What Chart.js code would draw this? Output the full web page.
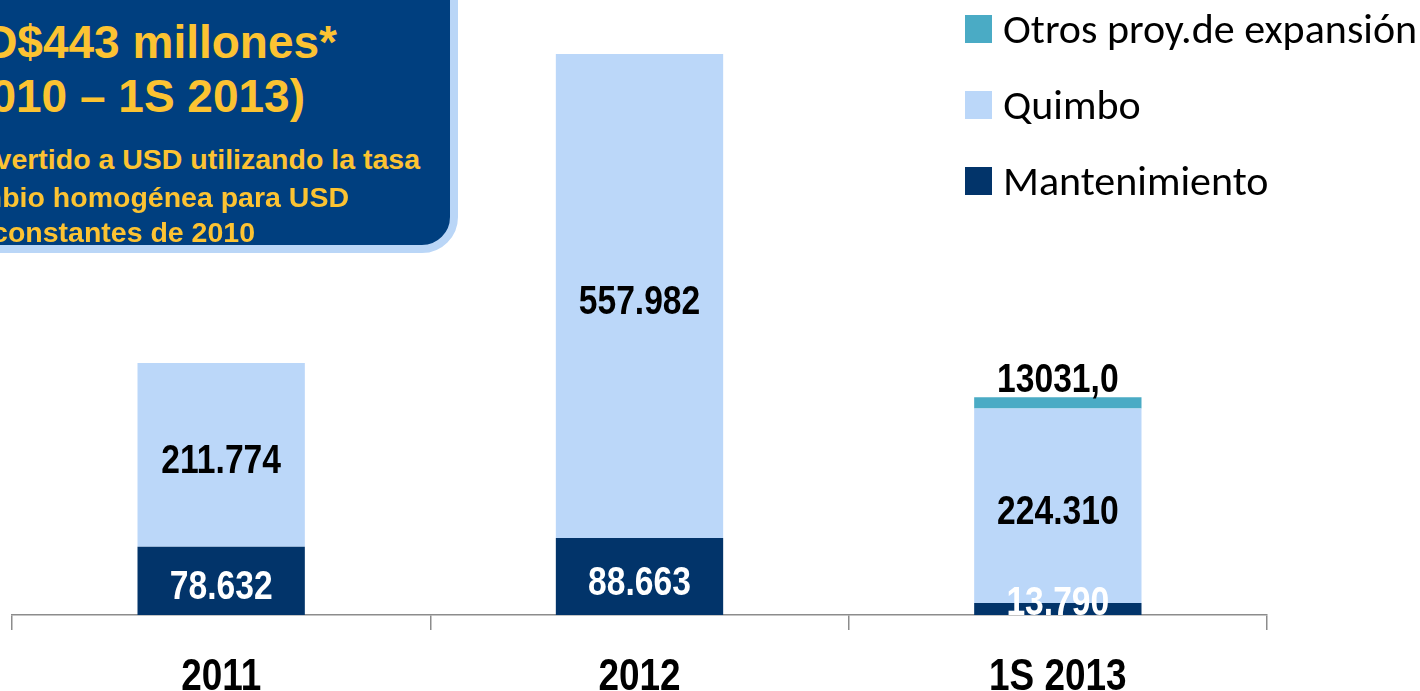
<!DOCTYPE html>
<html>
<head>
<meta charset="utf-8">
<script src="https://cdn.jsdelivr.net/npm/chart.js@4.4.1/dist/chart.umd.min.js"></script>
<style>
    html, body { margin: 0; padding: 0; background: #ffffff; }
    body { width: 1420px; height: 691px; overflow: hidden; position: relative; }
    #chart_area { position: absolute; left: 0; top: 0; width: 1420px; height: 691px; }
    #info_box {
        position: absolute; left: -40px; top: -40px; width: 498px; height: 293px;
        box-sizing: border-box; background: #003f7f;
        border: 8px solid #bad6f7; border-bottom-right-radius: 36px;
    }
    .box_line {
        position: absolute; white-space: nowrap; text-align: right;
        font-family: "Liberation Sans", Arial, sans-serif; font-weight: bold;
        color: #fcc332; line-height: 1;
    }
    .big { font-size: 46px; }
    .small { font-size: 28.5px; }
</style>
</head>
<body>
<div id="chart_area"><canvas id="capex_chart"></canvas></div>
<div id="info_box"></div>
<div class="box_line big" style="right:1083px; top:19px;">USD$443 millones*</div>
<div class="box_line big" style="right:1115px; top:73px;">(2010 – 1S 2013)</div>
<div class="box_line small" style="right:1000px; top:145px;">*Convertido a USD utilizando la tasa</div>
<div class="box_line small" style="right:1071px; top:183px;">de cambio homogénea para USD</div>
<div class="box_line small" style="right:1165px; top:218px;">constantes de 2010</div>
<script>
const categories = ["2011", "2012", "1S 2013"];

const series_names = ["Mantenimiento", "Quimbo", "Otros proy.de expansión"];
const mantenimiento = [78.632, 88.663, 13.790];
const quimbo = [211.774, 557.982, 224.310];
const otros = [null, null, 13.031];

const mantenimiento_labels = ["78.632", "88.663", "13.790"];
const quimbo_labels = ["211.774", "557.982", "224.310"];
const otros_labels = ["", "", "13031,0"];

const colors = ["#02346a", "#bbd7f9", "#4aabc5"];
const label_colors = ["#ffffff", "#000000", "#000000"];
const narrow_family = '"Liberation Sans", Arial, sans-serif';
const narrow_scale = 0.82;              // squeeze bold Arial into an Arial Narrow look

function narrowText(ctx, text, x, y) {
    ctx.save();
    ctx.translate(x, y);
    ctx.scale(narrow_scale, 1);
    ctx.fillText(text, 0, 0);
    ctx.restore();
}

// Value labels drawn on top of each segment
const segmentLabels = {
    id: "segmentLabels",
    afterDatasetsDraw(chart) {
        const ctx = chart.ctx;
        const all_labels = [mantenimiento_labels, quimbo_labels, otros_labels];
        ctx.save();
        ctx.font = "bold 41px " + narrow_family;
        ctx.textAlign = "center";
        chart.data.datasets.forEach((dataset, i) => {
            const meta = chart.getDatasetMeta(i);
            meta.data.forEach((bar, j) => {
                const text = all_labels[i][j];
                if (!text) return;
                ctx.fillStyle = label_colors[i];
                if (i == 2) {                       // thin top segment: label above the bar
                    ctx.textBaseline = "alphabetic";
                    narrowText(ctx, text, bar.x, bar.y - 5);
                } else {
                    ctx.textBaseline = "middle";
                    const y = Math.min((bar.y + bar.base) / 2 + 7, bar.base - 11);
                    narrowText(ctx, text, bar.x, y);
                }
            });
        });
        ctx.restore();
    }
};

// Category labels under the axis, narrow bold
const categoryLabels = {
    id: "categoryLabels",
    afterDraw(chart) {
        const ctx = chart.ctx;
        const xs = chart.scales.x;
        ctx.save();
        ctx.font = "bold 45px " + narrow_family;
        ctx.fillStyle = "#000000";
        ctx.textAlign = "center";
        ctx.textBaseline = "alphabetic";
        categories.forEach((c, i) => {
            narrowText(ctx, c, xs.getPixelForTick(i), 690);
        });
        ctx.restore();
    }
};

// Legend in reversed stack order, top right
const sideLegend = {
    id: "sideLegend",
    afterDraw(chart) {
        const ctx = chart.ctx;
        const rows = [2, 1, 0];
        ctx.save();
        ctx.font = "40px Carlito, Lato, sans-serif";
        ctx.textAlign = "left";
        ctx.textBaseline = "alphabetic";
        rows.forEach((k, r) => {
            const top = 15 + r * 76;
            ctx.fillStyle = colors[k];
            ctx.fillRect(965, top, 27, 28);
            ctx.fillStyle = "#000000";
            ctx.save();
            ctx.translate(1003, top + 28);
            ctx.scale(1.05, 1);
            ctx.fillText(series_names[k], 0, 0);
            ctx.restore();
        });
        ctx.restore();
    }
};

const chart = new Chart("capex_chart", {
    type: "bar",
    data: {
        labels: categories,
        datasets: [
            { label: series_names[0], data: mantenimiento, backgroundColor: colors[0] },
            { label: series_names[1], data: quimbo, backgroundColor: colors[1] },
            { label: series_names[2], data: otros, backgroundColor: colors[2] }
        ]
    },
    options: {
        responsive: true,
        maintainAspectRatio: false,
        animation: false,
        layout: { padding: { left: 12, right: 153, top: 0, bottom: 0 } },
        datasets: { bar: { categoryPercentage: 1.0, barPercentage: 0.4 } },
        plugins: {
            legend: { display: false },
            tooltip: { enabled: false }
        },
        scales: {
            x: {
                stacked: true,
                afterFit(scale) { scale.height = 76; },
                border: { display: true, color: "#8c8c8c", width: 1.5 },
                grid: {
                    offset: true,
                    drawOnChartArea: false,
                    drawTicks: true,
                    tickLength: 15,
                    color: "#8c8c8c",
                    lineWidth: 1.5
                },
                ticks: {
                    color: "rgba(0,0,0,0)",     // drawn by categoryLabels instead
                    font: { size: 12 }
                }
            },
            y: {
                stacked: true,
                display: false,
                min: 0,
                max: 709
            }
        }
    },
    plugins: [segmentLabels, categoryLabels, sideLegend]
});
</script>
</body>
</html>
